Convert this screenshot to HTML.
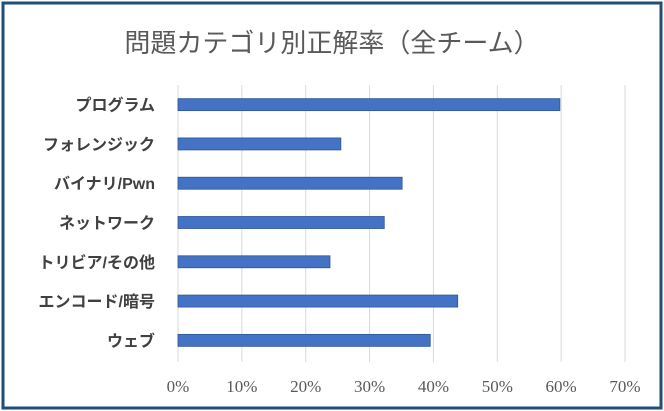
<!DOCTYPE html>
<html><head><meta charset="utf-8"><style>
body{margin:0;background:#fff;}
svg{display:block;}
</style></head><body>
<svg width="664" height="411" xmlns="http://www.w3.org/2000/svg">
<rect x="3" y="3" width="658" height="405" fill="#fff" stroke="#1f4e79" stroke-width="3"/>
<text x="332" y="52" text-anchor="middle" font-family="'Liberation Sans','Noto Sans CJK JP',sans-serif" font-size="26" fill="#595959">問題カテゴリ別正解率（全チーム）</text>
<g id="grid"></g><g id="bars"></g><g id="labels"></g><g id="ticks"></g>
</svg>
<script>
const categories=["プログラム","フォレンジック","バイナリ/Pwn","ネットワーク","トリビア/その他","エンコード/暗号","ウェブ"];
const values=[59.8,25.5,35.1,32.3,23.8,43.8,39.5];
const tickValues=[0,10,20,30,40,50,60,70];
const tickLabels=["0%","10%","20%","30%","40%","50%","60%","70%"];
const NS="http://www.w3.org/2000/svg";
const x0=178,x1=625,yTop=85,yBot=360;
const xs=v=>x0+(v-0)/(70-0)*(x1-x0);
const band=(yBot-yTop)/categories.length;
const yc=i=>yTop+band*(i+0.5);
function mk(t,a,p){const e=document.createElementNS(NS,t);for(const k in a)e.setAttribute(k,a[k]);document.getElementById(p).appendChild(e);return e;}
tickValues.forEach((v,i)=>{
 const l=mk("line",{x1:xs(v),x2:xs(v),y1:yTop,y2:yBot+2,stroke:"#d9d9d9","stroke-width":1},"grid");
 
 
 const t=mk("text",{x:xs(v),y:392,"text-anchor":"middle","font-family":"'Liberation Serif',serif","font-size":"17",fill:"#595959"},"ticks");
 t.textContent=tickLabels[i];
 
 
});
categories.forEach((c,i)=>{
 const r=mk("rect",{x:xs(0),y:yc(i)-6,width:xs(values[i])-xs(0),height:12,fill:"#4472c4",stroke:"#2f5597","stroke-width":0.8},"bars");
 
 
 const t=mk("text",{x:155,y:yc(i)+6,"text-anchor":"end","font-family":"'Liberation Sans','Noto Sans CJK JP',sans-serif","font-size":"16","font-weight":"bold",fill:"#404040"},"labels");
 t.textContent=c;
 
 
});
</script>
</body></html>
